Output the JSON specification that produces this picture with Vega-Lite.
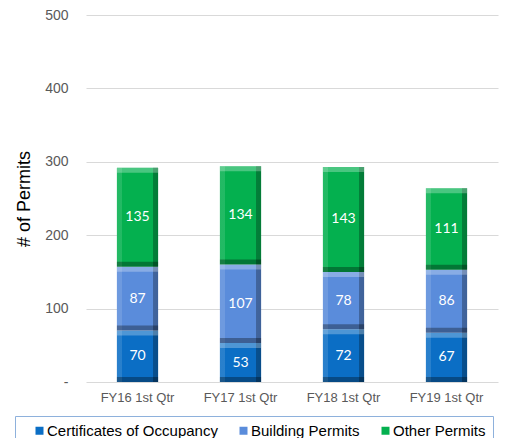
{
  "$schema": "https://vega.github.io/schema/vega-lite/v6.json",
  "width": 412,
  "height": 367,
  "autosize": {"type": "none"},
  "padding": {"left": 86, "top": 15, "right": 9, "bottom": 56},
  "background": "white",
  "data": {
    "values": [
      {"quarter": "FY16 1st Qtr", "series": "Certificates of Occupancy", "ord": 1, "value": 70},
      {"quarter": "FY16 1st Qtr", "series": "Building Permits", "ord": 2, "value": 87},
      {"quarter": "FY16 1st Qtr", "series": "Other Permits", "ord": 3, "value": 135},
      {"quarter": "FY17 1st Qtr", "series": "Certificates of Occupancy", "ord": 1, "value": 53},
      {"quarter": "FY17 1st Qtr", "series": "Building Permits", "ord": 2, "value": 107},
      {"quarter": "FY17 1st Qtr", "series": "Other Permits", "ord": 3, "value": 134},
      {"quarter": "FY18 1st Qtr", "series": "Certificates of Occupancy", "ord": 1, "value": 72},
      {"quarter": "FY18 1st Qtr", "series": "Building Permits", "ord": 2, "value": 78},
      {"quarter": "FY18 1st Qtr", "series": "Other Permits", "ord": 3, "value": 143},
      {"quarter": "FY19 1st Qtr", "series": "Certificates of Occupancy", "ord": 1, "value": 67},
      {"quarter": "FY19 1st Qtr", "series": "Building Permits", "ord": 2, "value": 86},
      {"quarter": "FY19 1st Qtr", "series": "Other Permits", "ord": 3, "value": 111}
    ]
  },
  "transform": [
    {"stack": "value", "groupby": ["quarter"], "sort": [{"field": "ord", "order": "ascending"}], "as": ["v0", "v1"]}
  ],
  "encoding": {
    "x": {
      "field": "quarter",
      "type": "nominal",
      "sort": null,
      "title": null,
      "scale": {"paddingInner": 0.6, "paddingOuter": 0.3},
      "axis": {"labelAngle": 0, "domain": false, "ticks": false, "grid": false, "labelPadding": 9, "labelFontSize": 13, "labelColor": "#595959", "labelFont": "Liberation Sans"}
    }
  },
  "layer": [
    {
      "mark": {"type": "bar"},
      "encoding": {
        "y": {
          "field": "v1", "type": "quantitative", "title": "# of Permits",
          "scale": {"domain": [0, 500], "nice": false},
          "axis": {"values": [0, 100, 200, 300, 400, 500], "labelExpr": "datum.value === 0 ? '-' : datum.label"}
        },
        "y2": {"field": "v0"},
        "color": {
          "field": "series", "type": "nominal",
          "scale": {"domain": ["Certificates of Occupancy", "Building Permits", "Other Permits"], "range": ["#0B6EC5", "#5A8CDB", "#04B04F"]},
          "legend": {
            "orient": "none", "legendX": -71, "legendY": 401, "direction": "horizontal",
            "title": "\u00a0", "titleOrient": "left", "titleFontSize": 15, "titlePadding": 10,
            "symbolType": "square", "symbolSize": 64, "symbolStrokeWidth": 0,
            "labelFontSize": 15, "labelFont": "Liberation Sans", "labelColor": "#000000", "labelOffset": 0,
            "columnPadding": 18, "padding": 7, "strokeColor": "#8EB1DC", "labelLimit": 300
          }
        }
      }
    },
    {
      "mark": {"type": "bar"},
      "encoding": {
        "y": {"field": "v1", "type": "quantitative", "title": "# of Permits"},
        "y2": {"field": "v0"},
        "color": {"value": {"gradient": "linear", "x1": 0, "y1": 0, "x2": 1, "y2": 0, "stops": [
          {"offset": 0, "color": "rgba(255,255,255,0.12)"},
          {"offset": 0.12, "color": "rgba(255,255,255,0.12)"},
          {"offset": 0.121, "color": "rgba(255,255,255,0)"},
          {"offset": 0.878, "color": "rgba(0,0,0,0)"},
          {"offset": 0.879, "color": "rgba(0,0,0,0.28)"},
          {"offset": 1, "color": "rgba(0,0,0,0.3)"}
        ]}}
      }
    },
    {
      "mark": {"type": "bar", "color": "#ffffff", "opacity": 0.28, "y2Offset": 5},
      "encoding": {
        "y": {"field": "v1", "type": "quantitative", "title": "# of Permits"},
        "y2": {"field": "v1"}
      }
    },
    {
      "mark": {"type": "bar", "color": "#000000", "opacity": 0.32, "yOffset": -5},
      "encoding": {
        "y": {"field": "v0", "type": "quantitative", "title": "# of Permits"},
        "y2": {"field": "v0"}
      }
    },
    {
      "transform": [{"fold": ["v0", "v1"], "as": ["edge", "pos"]}],
      "mark": {"type": "text", "color": "white", "font": "Lato", "fontSize": 14, "baseline": "middle", "align": "center"},
      "encoding": {
        "y": {"field": "pos", "aggregate": "mean", "type": "quantitative", "stack": null, "title": "# of Permits"},
        "text": {"field": "value", "type": "quantitative"},
        "detail": {"field": "series", "type": "nominal"}
      }
    }
  ],
  "config": {
    "view": {"stroke": null},
    "font": "Liberation Sans",
    "axisY": {
      "domain": false, "ticks": false, "grid": true, "gridColor": "#D9D9D9", "gridWidth": 1,
      "labelFontSize": 14, "labelColor": "#595959", "labelPadding": 18, "labelFont": "Liberation Sans",
      "titleFontSize": 18, "titleFontWeight": "normal", "titleColor": "#000000", "titleFont": "Liberation Sans",
      "titleX": -62, "titleY": 183.5, "titleAngle": -90, "titleAlign": "center", "titleBaseline": "middle"
    }
  }
}
